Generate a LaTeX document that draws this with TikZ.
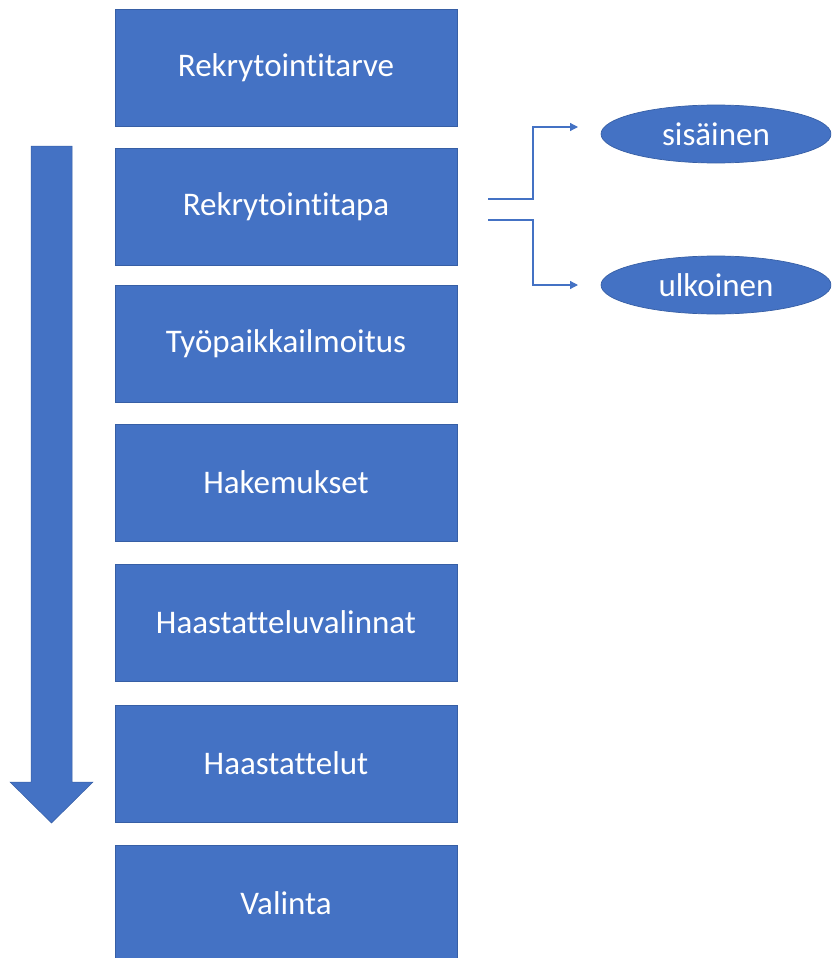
\documentclass[tikz,border=0pt]{standalone}
\usepackage{fontspec}
\setmainfont{Carlito}[Ligatures=NoCommon]
\usetikzlibrary{arrows.meta}
\usetikzlibrary{shapes.geometric}
\definecolor{stageblue}{RGB}{68,114,196}
\definecolor{stageedge}{RGB}{55,95,165}
\tikzset{
  stage/.style={rectangle,draw=stageedge,fill=stageblue,line width=0.7pt,minimum width=342pt,minimum height=117pt,inner sep=0pt,text=white,font=\fontsize{33}{38}\selectfont},
  choice/.style={ellipse,draw=stageedge,fill=stageblue,line width=0.7pt,minimum width=230pt,minimum height=58pt,inner sep=0pt,text=white,font=\fontsize{33}{38}\selectfont},
}
\begin{document}
\begin{tikzpicture}[x=1pt,y=-1pt]
        \useasboundingbox (0,0) rectangle (831,958);
        \begin{scope}
        \clip (0,0) rectangle (831,958);
        % steps
        \node (tarve) at (286,68) [stage] {Rekrytointitarve};
        \node (tapa) at (286,206.5) [stage] {Rekrytointitapa};
        \node (ilmoitus) at (286,343.5) [stage] {Työpaikkailmoitus};
        \node (hakemukset) at (286,482.5) [stage] {Hakemukset};
        \node (valinnat) at (286,622.5) [stage] {Haastatteluvalinnat};
        \node (haastattelut) at (286,763.5) [stage] {Haastattelut};
        \node (valinta) at (286,903.5) [stage] {Valinta};
        % choices
        \node (sis) at (716,134) [choice] {sisäinen};
        \node (ulk) at (716,285) [choice] {ulkoinen};
        % big arrow
        \fill [stageblue,draw=stageedge,line width=0.5pt] (31,146)--(72,146)--(72,782)--(93,782)--(51.5,823)--(10,782)--(31,782)--cycle;
        \end{scope}
        \coordinate (a1) at (488,199);
        \coordinate (a2) at (488,220);
        \coordinate (b1) at (578,127);
        \coordinate (b2) at (578,285);
        \draw [stageblue,line width=1.2pt,-{Triangle[length=8pt,width=8pt]}] (a1)--(533,199)|-(b1);
        \draw [stageblue,line width=1.2pt,-{Triangle[length=8pt,width=8pt]}] (a2)--(533,220)|-(b2);
      \end{tikzpicture}
\end{document}
